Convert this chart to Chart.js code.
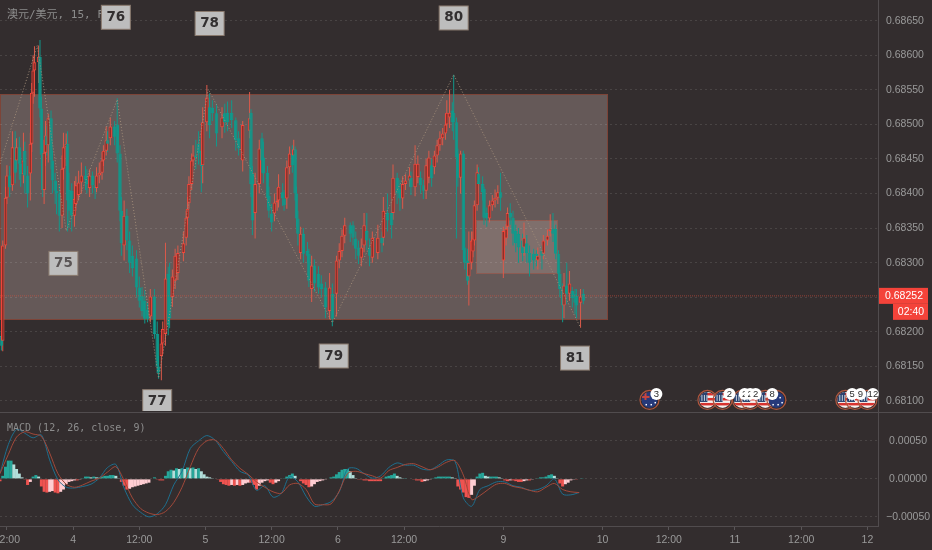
<!DOCTYPE html>
<html>
<head>
<meta charset="utf-8">
<title>澳元/美元</title>
<style>
  html, body { margin: 0; padding: 0; background: #332d2e; overflow: hidden; }
  canvas { display: block; }
</style>
<script src="https://cdn.jsdelivr.net/npm/chart.js@4/dist/chart.umd.min.js"></script>
</head>
<body>
<canvas id="grafico" width="932" height="550"></canvas>
<script>
// prices are in points above 0.68000, macd in 0.00001 units, x is the 15 min bar number
const candleBars = [
  1,2,4,5,7,9,11,12,14,15, 17,18,20,22,23,24,25,28,29,30, 31,32,33,34,35,37,38,40,41,43,
  45,46,48,49,50,52,54,55,57,59, 62,63,65,67,69,70,72,74,75,77, 78,80,83,85,87,88,90,92,94,96,
  99,101,103,105,107,109,112,114,115,117, 118,120,122,123,125,127,129,133,135,136,
  137,139,140,142,144,146,147,150,152,154, 157,161,163,165,168,171,173,176,181,182,
  183,185,188,190,191,194,195,197,199,201, 202,205,206,208,210,212,213,214,215,216,
  218,220,223,224,226,228,231,233,236,239, 241,244,246,248,250,254,256,258,260,262,
  264,266,268,270,274,277,278,281,284,285, 288,290,292,294,297,298,301,303,305,307,
  309,311,313,315,317,319,321,323,324,326, 328,329,331,332,334,336,337,339,340,342,
  343,344,346,347,350,351,353,355,357,359, 361,363,365,367,368,370,372,374,376,379,
  380,382,384,387,389,390,393,394,397,399, 401,403,405,406,408,409,411,413,415,417,
  418,421,423
];
const opens = [
  194,187,325,394,426,412,467,448,467,443, 428,462,426,429,472,546,578,590,598,523, 456,405,459,484,470,509,448,419,404,400,
  368,436,467,472,405,404,368,385,398,416, 426,420,408,426,412,408,426,430,448,462, 477,480,497,500,458,375,325,368,332,310,
  306,264,252,245,232,222,251,197,150,165, 183,197,284,250,250,274,285,314,336,365,
  386,414,448,455,472,462,441,503,525,524, 516,496,516,517,517,506,480,448,491,517,
  429,372,414,480,452,430,397,371,371,387, 390,402,393,393,438,458,455,464,400,364,
  314,342,317,313,262,296,284,270,264,230, 255,255,303,317,339,354,354,335,322,307,
  325,346,322,307,314,336,336,372,372,372, 423,407,393,414,419,423,409,424,423,412,
  404,423,441,438,455,470,480,487,500,510, 520,517,503,458,423,458,322,303,280,300,
  316,332,383,429,414,407,372,364,383,390, 394,402,303,335,352,372,365,346,342,332,
  322,328,314,313,313,303,317,313,332,346, 349,349,313,284,262,238,267,255,259,255,
  252,242,255
];
const highs = [
  200,332,410,441,440,490,490,480,482,460, 488,475,440,488,560,600,613,614,622,540, 470,478,505,498,515,520,462,430,418,412,
  455,488,487,490,430,415,418,425,433,445, 440,435,435,432,425,438,445,460,470,497, 490,510,505,538,470,395,390,378,345,325,
  318,280,265,260,242,262,262,215,165,195, 215,329,294,300,290,320,325,345,375,395,
  425,458,470,478,490,480,525,557,545,535, 530,525,530,533,535,510,490,505,547,522,
  440,430,478,488,475,440,410,385,400,408, 428,415,405,448,468,470,478,468,410,375,
  352,350,330,320,310,305,295,282,272,285, 270,310,328,348,365,358,360,345,332,335,
  372,372,335,345,355,345,395,400,392,442, 430,420,425,428,438,432,470,455,432,420,
  450,462,450,462,478,490,495,515,535,550, 532,572,510,465,462,462,345,320,345,345,
  345,390,442,438,425,410,380,390,398,406, 412,430,352,356,380,386,375,355,350,342,
  358,340,325,320,318,322,325,340,348,370, 372,355,318,290,270,285,300,288,265,262,
  262,262,262
];
const lows = [
  173,172,320,385,395,404,415,435,420,410, 415,400,380,390,460,530,540,560,510,440, 395,385,440,455,445,435,400,385,370,345,
  350,420,440,345,350,345,352,375,390,400, 405,400,395,400,392,402,415,420,440,455, 460,470,470,445,360,310,303,318,285,280,
  250,235,222,212,214,214,190,140,132,130, 168,180,195,205,236,262,275,302,325,355,
  378,405,440,435,442,402,415,490,480,505, 468,480,488,490,495,462,455,432,480,395,
  340,335,400,430,415,380,365,345,360,375, 380,382,375,378,428,430,445,390,352,325,
  305,300,300,265,243,258,255,250,220,218, 208,222,292,308,328,330,325,305,298,295,
  315,318,295,300,305,315,325,345,335,362, 385,375,378,405,410,398,396,415,400,392,
  392,415,410,428,445,462,470,478,490,495, 490,478,335,410,400,305,290,268,238,290,
  308,325,375,400,390,355,352,358,375,380, 385,375,278,325,340,355,325,315,300,302,
  310,300,280,290,295,290,290,305,325,338, 330,305,275,250,214,220,240,245,235,225,
  220,206,240
];
const closes = [
  180,325,394,426,409,467,430,467,443,428, 448,426,400,472,546,578,590,598,523,456, 405,459,484,470,509,448,419,404,400,368,
  436,467,472,390,375,368,392,412,416,426, 420,414,426,412,408,426,430,448,462,477, 472,497,482,458,375,328,368,332,300,292,
  264,245,230,219,219,251,197,150,141,183, 204,277,209,220,280,310,314,328,365,378,
  414,448,455,452,458,440,503,539,499,516, 487,510,503,503,506,477,465,499,509,414,
  361,414,465,448,429,394,375,358,387,390, 410,393,383,438,458,441,464,400,364,342,
  342,313,310,274,296,270,264,262,235,264, 219,303,317,339,354,342,336,320,310,322,
  354,332,310,336,336,328,375,361,354,423, 400,393,414,419,426,409,443,443,412,404,
  441,452,422,455,470,480,487,500,517,517, 503,503,452,423,458,318,300,274,300,332,
  335,383,431,414,402,365,364,383,390,394, 402,394,346,349,372,365,342,328,322,314,
  336,314,300,303,306,310,310,332,339,349, 342,313,284,262,238,267,255,270,249,242,
  238,251,245
];

// turning points of the dotted zigzag
const zigzagBars = [0, 27, 48, 85, 115, 151, 241, 329, 421];
const zigzagPrices = [443, 614, 346, 536, 133, 551, 213, 572, 206];

// one value every 6 bars
const macdLine = [
  7,45,65,60,54,58,25,-1,-11,-12, -10,-7,1,15,19,-12,-34,-44,-50,-46,
  -34,-8,10,40,50,57,51,36,23,10, 5,-15,-9,-24,-19,3,-4,-23,-36,-34,
  -30,-17,13,14,7,1,4,15,21,18, 18,13,12,18,25,23,-25,-36,-14,-9,
  -4,-4,-9,-11,-15,-14,-9,0,-20,-21, -18
];
const signalLine = [
  7,32,55,62,59,56,34,7,-7,-11, -8,-3,1,9,16,-2,-25,-39,-45,-47,
  -43,-31,-11,16,40,50,51,40,25,14, 6,-4,-11,-17,-19,-8,-6,-14,-33,-34,
  -33,-16,7,10,7,4,1,11,15,19, 20,16,12,16,22,24,5,-27,-22,-14,
  -7,-6,-10,-12,-15,-17,-11,-6,-14,-17, -18
];
// one value every 2 bars
const macdHist = [
  -3,4,16,24,24,19,13,7,2,-1, -8,-4,3,5,3,-10,-17,-18,-17,-16,
  -18,-19,-17,-14,-7,-4,-3,-2,-2,-1, 1,3,3,2,3,2,2,3,4,4,
  5,5,4,1,-4,-9,-14,-13,-11,-10, -9,-8,-7,-6,-5,0,2,-1,-2,-2,
  4,10,12,11,14,13,14,13,15,14, 15,13,14,10,6,3,2,1,0,-1,
  -4,-7,-8,-9,-8,-9,-8,-9,-8,-6, -5,-5,-8,-14,-9,-5,-3,-2,-5,-7,
  -5,-3,0,1,3,5,7,4,0,-3, -6,-8,-11,-10,-7,-4,-3,-2,-1,0,
  2,3,6,9,12,13,13,10,5,1, -1,-1,-2,-2,-3,-3,-3,-3,-3,1,
  3,4,5,7,4,2,1,1,0,0, -1,-2,-2,-4,-3,-2,-1,1,2,3,
  3,3,3,3,2,1,-10,-14,-18,-24, -25,-21,-9,3,7,8,4,3,3,3,
  3,2,1,-2,-3,-2,-2,-3,-4,-4, -3,-2,-2,-1,0,1,2,2,3,5,
  6,4,1,-6,-10,-7,-5,-2,-1,-1, 0,1
];

const priceTicks = [100, 150, 200, 250, 300, 350, 400, 450, 500, 550, 600, 650];
const macdTicks = [50, 0, -50];
const timeBars = [5, 53, 101, 149, 197, 245, 293, 365, 437, 485, 533, 581, 629];
const timeLabels = ['12:00', '4', '12:00', '5', '12:00', '6', '12:00', '9', '10', '12:00', '11', '12:00', '12'];

const noteTexts = ['75', '76', '77', '78', '79', '80', '81'];
const noteBars = [46, 84, 114, 152, 242, 329, 417];
const notePrices = [299, 655, 99, 646, 165, 654, 162];

const rangeBox = [0, 440, 218, 544];
const smallBox = [345, 404, 285, 362];

const lastPrice = 252;
const countdown = '02:40';

const flagKinds = ['au', 'us', 'us', 'us', 'us', 'us', 'au', 'us', 'us', 'us'];
const flagBars = [471, 513, 524, 538, 544, 555, 563, 613, 620, 629];
const badgeTexts = ['3', '2', '2', '2', '2', '8', '5', '9', '12'];
const badgeBars = [476, 529, 540, 544, 548, 560, 618, 624, 633];

const BG_UP = '#8f2f28';
const UP = '#f2453a';
const DOWN = '#0f9a8c';
const TEXT = '#9a9a9a';
const AXIS_FONT = { family: '"Liberation Sans"', size: 10.5 };
const MONO = '"DejaVu Sans Mono", "Noto Sans CJK SC"';

const toPrice = p => 0.68 + p / 100000;
const toMacd = v => v / 100000;
const isUp = i => closes[i] >= opens[i];

function histColor(i) {
  const prev = i > 0 ? macdHist[i - 1] : 0;
  if (macdHist[i] >= 0) return macdHist[i] >= prev ? '#26a69a' : '#b2dfdb';
  return macdHist[i] <= prev ? '#ef5350' : '#ffcdd2';
}

function clearPadding(scale) {
  scale.paddingLeft = scale.paddingRight = scale.paddingTop = scale.paddingBottom = 0;
}

function drawUsFlag(ctx, x, y, r) {
  ctx.fillStyle = '#f4f0ee';
  ctx.fillRect(x - r, y - r, r * 2, r * 2);
  ctx.fillStyle = '#d8322f';
  for (let k = 0; k < 4; k++) ctx.fillRect(x - r, y - r + 1 + k * 5, r * 2, 2.5);
  ctx.fillStyle = '#28416e';
  ctx.fillRect(x - r, y - r, r, r + 2);
  ctx.fillStyle = '#c9d2de';
  for (let k = 0; k < 3; k++) ctx.fillRect(x - r + 2 + k * 2.5, y - 5, 1, 6);
}

function drawAuFlag(ctx, x, y, r) {
  ctx.fillStyle = '#26397a';
  ctx.fillRect(x - r, y - r, r * 2, r * 2);
  ctx.fillStyle = '#c8453f';
  ctx.fillRect(x - r, y - 4, r, 2);
  ctx.fillRect(x - 5, y - r, 2, r);
  ctx.fillStyle = '#ffffff';
  [[3, -3], [5, 2], [1, 4], [-4, 4]].forEach(d => ctx.fillRect(x + d[0], y + d[1], 1.5, 1.5));
}

const overlays = {
  id: 'overlays',
  beforeDraw(chart) {
    const { ctx, scales } = chart;
    [[rangeBox, '#655958', '#7d4438'], [smallBox, '#7f6f6c', '#8d5b52']].forEach(item => {
      const b = item[0];
      const left = Math.round(scales.x.getPixelForValue(b[0])) + 0.5;
      const right = Math.round(scales.x.getPixelForValue(b[1])) + 0.5;
      const top = Math.round(scales.y.getPixelForValue(toPrice(b[3]))) + 0.5;
      const bottom = Math.round(scales.y.getPixelForValue(toPrice(b[2]))) + 0.5;
      ctx.fillStyle = item[1];
      ctx.strokeStyle = item[2];
      ctx.lineWidth = 1;
      ctx.fillRect(left, top, right - left, bottom - top);
      ctx.strokeRect(left, top, right - left, bottom - top);
    });
  },
  afterDatasetsDraw(chart) {
    const { ctx, scales } = chart;
    const flagY = scales.y.getPixelForValue(toPrice(100)) - 1;

    // pane titles
    ctx.textBaseline = 'middle';
    ctx.textAlign = 'left';
    ctx.fillStyle = '#8c8c8c';
    ctx.font = '11px ' + MONO;
    ctx.fillText('澳元/美元, 15, FX', 7, 15);
    ctx.font = '10px ' + MONO;
    ctx.fillText('MACD (12, 26, close, 9)', 7, 428);

    // numbered notes
    ctx.save();
    ctx.beginPath();
    ctx.rect(0, 0, chart.chartArea.right, scales.y.bottom - 1);
    ctx.clip();
    noteTexts.forEach((txt, i) => {
      const x = scales.x.getPixelForValue(noteBars[i]);
      const y = scales.y.getPixelForValue(toPrice(notePrices[i]));
      ctx.fillStyle = '#bdbdbd';
      ctx.strokeStyle = '#8a7a6e';
      ctx.lineWidth = 1;
      ctx.fillRect(x - 14.5, y - 12, 29, 24);
      ctx.strokeRect(x - 14.5, y - 12, 29, 24);
      ctx.fillStyle = txt === '75' ? '#5a5555' : '#333031';
      ctx.font = 'bold 13.5px "DejaVu Sans"';
      ctx.textAlign = 'center';
      ctx.fillText(txt, x, y);
    });
    ctx.restore();

    // calendar flags
    flagKinds.forEach((kind, i) => {
      const x = scales.x.getPixelForValue(flagBars[i]);
      ctx.save();
      ctx.beginPath();
      ctx.arc(x, flagY, 8, 0, Math.PI * 2);
      ctx.clip();
      if (kind === 'us') drawUsFlag(ctx, x, flagY, 8);
      else drawAuFlag(ctx, x, flagY, 8);
      ctx.restore();
      ctx.beginPath();
      ctx.arc(x, flagY, 9.5, 0, Math.PI * 2);
      ctx.strokeStyle = '#b0563e';
      ctx.lineWidth = 1.2;
      ctx.stroke();
    });
    badgeTexts.forEach((txt, i) => {
      const x = scales.x.getPixelForValue(badgeBars[i]);
      ctx.beginPath();
      ctx.arc(x, flagY - 6, 6, 0, Math.PI * 2);
      ctx.fillStyle = '#ffffff';
      ctx.fill();
      ctx.fillStyle = '#2b2b2b';
      ctx.font = '9.5px "Liberation Sans"';
      ctx.textAlign = 'center';
      ctx.fillText(txt, x, flagY - 5.5);
    });

    // pane divider
    ctx.fillStyle = '#514c4e';
    ctx.fillRect(0, Math.round(scales.y.bottom), chart.width, 1);

    // last price tags
    const lastY = scales.y.getPixelForValue(toPrice(lastPrice));
    ctx.fillStyle = '#f4433a';
    ctx.fillRect(879, lastY - 8, 49, 16);
    ctx.fillRect(893, lastY + 8, 35, 16);
    ctx.fillStyle = '#ffffff';
    ctx.font = AXIS_FONT.size + 'px ' + AXIS_FONT.family;
    ctx.textAlign = 'center';
    ctx.fillText(toPrice(lastPrice).toFixed(5), 904, lastY);
    ctx.fillText(countdown, 911, lastY + 16);
  }
};

const wickData = candleBars.map((b, i) => ({ x: b, y: [toPrice(lows[i]), toPrice(highs[i])] }));
const bodyData = candleBars.map((b, i) => ({ x: b, y: [toPrice(opens[i]), toPrice(closes[i])] }));
const zigzagData = zigzagBars.map((b, i) => ({ x: b, y: toPrice(zigzagPrices[i]) }));
const histData = macdHist.map((v, i) => ({ x: i * 2, y: toMacd(v) }));
const macdData = macdLine.map((v, i) => ({ x: i * 6, y: toMacd(v) }));
const signalData = signalLine.map((v, i) => ({ x: i * 6, y: toMacd(v) }));

new Chart(document.getElementById('grafico'), {
  type: 'bar',
  data: {
    datasets: [
      {
        label: 'wicks', data: wickData, yAxisID: 'y', order: 5, grouped: false,
        barThickness: 1, borderWidth: 0, inflateAmount: 0,
        backgroundColor: candleBars.map((b, i) => isUp(i) ? '#dc5a4a' : '#12988b')
      },
      {
        label: 'bodies', data: bodyData, yAxisID: 'y', order: 4, grouped: false,
        barThickness: 3.5, borderWidth: 1, borderSkipped: false, inflateAmount: 0,
        backgroundColor: candleBars.map((b, i) => isUp(i) ? BG_UP : DOWN),
        borderColor: candleBars.map((b, i) => isUp(i) ? UP : DOWN)
      },
      {
        type: 'line', label: 'last', yAxisID: 'y', order: 3,
        data: [{ x: 0, y: toPrice(lastPrice) }, { x: 637, y: toPrice(lastPrice) }],
        borderColor: 'rgba(226,80,60,0.55)', borderWidth: 1, borderDash: [1, 1], pointRadius: 0
      },
      {
        type: 'line', label: 'zigzag', data: zigzagData, yAxisID: 'y', order: 2,
        borderColor: '#a08c78', borderWidth: 1, borderDash: [1, 2], pointRadius: 0
      },
      {
        label: 'hist', data: histData, yAxisID: 'macd', order: 6, grouped: false,
        barThickness: 3, borderWidth: 0, inflateAmount: 0,
        backgroundColor: macdHist.map((v, i) => histColor(i))
      },
      {
        type: 'line', label: 'macd', data: macdData, yAxisID: 'macd', order: 1,
        borderColor: '#1f6f8e', borderWidth: 1, pointRadius: 0, tension: 0.3
      },
      {
        type: 'line', label: 'signal', data: signalData, yAxisID: 'macd', order: 0,
        borderColor: '#a2493a', borderWidth: 1, pointRadius: 0, tension: 0.3
      }
    ]
  },
  options: {
    responsive: false,
    animation: false,
    devicePixelRatio: 1,
    layout: { padding: 0 },
    plugins: { legend: { display: false }, tooltip: { enabled: false } },
    scales: {
      x: {
        type: 'linear',
        position: 'bottom',
        offset: false,
        min: 0,
        max: 636.7,
        grid: { offset: false, drawOnChartArea: false, tickLength: 4, color: '#5a5658' },
        border: { color: '#514c4e' },
        ticks: {
          color: TEXT, font: AXIS_FONT, autoSkip: false, maxRotation: 0, padding: 4,
          callback: v => timeLabels[timeBars.indexOf(v)]
        },
        afterBuildTicks: s => { s.ticks = timeBars.map(v => ({ value: v })); },
        afterFit: s => { s.height = 24; clearPadding(s); }
      },
      y: {
        position: 'right',
        stack: 'panes',
        stackWeight: 412,
        min: toPrice(84),
        max: toPrice(680),
        grid: { color: 'rgba(255,255,255,0.11)', drawTicks: false },
        border: { color: '#514c4e', dash: [2, 3] },
        ticks: {
          color: TEXT, font: AXIS_FONT, padding: 8,
          callback: v => v.toFixed(5)
        },
        afterBuildTicks: s => { s.ticks = priceTicks.map(p => ({ value: toPrice(p) })); },
        afterFit: s => { s.width = 54; clearPadding(s); }
      },
      macd: {
        position: 'right',
        stack: 'panes',
        stackWeight: 114,
        min: toMacd(-62),
        max: toMacd(88),
        grid: { color: 'rgba(255,255,255,0.11)', drawTicks: false },
        border: { color: '#514c4e', dash: [2, 3] },
        ticks: {
          color: TEXT, font: AXIS_FONT, padding: 8, crossAlign: 'center',
          callback: v => (v < 0 ? '−' : '') + Math.abs(v).toFixed(5)
        },
        afterBuildTicks: s => { s.ticks = macdTicks.map(v => ({ value: toMacd(v) })); },
        afterFit: s => { s.width = 54; clearPadding(s); }
      }
    }
  },
  plugins: [overlays]
});
</script>
</body>
</html>
